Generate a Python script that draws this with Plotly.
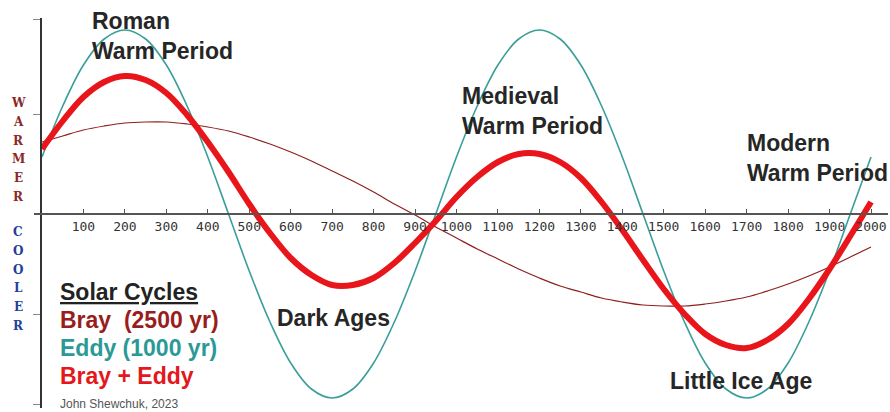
import plotly.graph_objects as go

# ---- data (arbitrary "warmer/cooler" units) ----
years = list(range(0, 2001, 50))
eddy = [0.57, 1.08, 1.49, 1.75, 1.84, 1.75, 1.49, 1.08, 0.57, 0.00,
        -0.57, -1.08, -1.49, -1.75, -1.84, -1.75, -1.49, -1.08, -0.57, 0.00,
        0.57, 1.08, 1.49, 1.75, 1.84, 1.75, 1.49, 1.08, 0.57, 0.00,
        -0.57, -1.08, -1.49, -1.75, -1.84, -1.75, -1.49, -1.08, -0.57, 0.00,
        0.57]
bray = [0.72, 0.78, 0.84, 0.88, 0.91, 0.92, 0.92, 0.90, 0.87, 0.83,
        0.77, 0.70, 0.62, 0.53, 0.43, 0.33, 0.22, 0.10, -0.01, -0.13,
        -0.24, -0.35, -0.45, -0.55, -0.64, -0.72, -0.78, -0.84, -0.88, -0.91,
        -0.92, -0.92, -0.90, -0.87, -0.83, -0.77, -0.70, -0.62, -0.53, -0.43,
        -0.33]
combined = [0.65, 0.93, 1.17, 1.32, 1.38, 1.34, 1.21, 0.99, 0.72, 0.42,
            0.10, -0.19, -0.44, -0.61, -0.71, -0.71, -0.64, -0.49, -0.29, -0.07,
            0.17, 0.37, 0.52, 0.60, 0.60, 0.52, 0.36, 0.12, -0.16, -0.46,
            -0.75, -1.00, -1.20, -1.31, -1.34, -1.26, -1.10, -0.85, -0.55, -0.22,
            0.12]

tick_years = list(range(100, 2001, 100))
tick_labels = [str(v) for v in tick_years]

period_labels = ["Roman<br>Warm Period", "Medieval<br>Warm Period",
                 "Modern<br>Warm Period", "Dark Ages", "Little Ice Age"]
legend_title = "Solar Cycles"
legend_items = ["Bray\u00a0\u00a0(2500 yr)", "Eddy (1000 yr)", "Bray + Eddy"]
credit = "John Shewchuk, 2023"
warm_word = "WARMER"
cool_word = "COOLER"

# ---- styles ----
C_BRAY = "#8e1f1f"
C_EDDY = "#3a9e9a"
C_SUM = "#e8161b"
C_BRAY_TXT = "#9a1d1d"
C_EDDY_TXT = "#2b9a96"
C_SUM_TXT = "#e3181d"
SANS = "Liberation Sans, Arial, sans-serif"

Y0, Y1 = -1.94, 1.96
X1 = 2041

fig = go.Figure()
fig.add_trace(go.Scatter(x=years, y=bray, mode="lines",
                         line=dict(color=C_BRAY, width=1.2, shape="spline"),
                         hoverinfo="skip"))
fig.add_trace(go.Scatter(x=years, y=eddy, mode="lines",
                         line=dict(color=C_EDDY, width=1.6, shape="spline"),
                         hoverinfo="skip"))
fig.add_trace(go.Scatter(x=years, y=combined, mode="lines",
                         line=dict(color=C_SUM, width=6, shape="spline"),
                         hoverinfo="skip"))

ann = []
# period labels: (x data, y data)
pos = [(116, 1.78), (1008, 1.03), (1696, 0.56), (562, -1.04), (1510, -1.67)]
for txt, (px, py) in zip(period_labels, pos):
    ann.append(dict(x=px, y=py, xref="x", yref="y", text="<b>" + txt.replace("<br>", "</b><br><b>") + "</b>",
                    showarrow=False, xanchor="left", yanchor="middle", align="left",
                    font=dict(family=SANS, size=23, color="#262626")))

# legend block
lx = 38
ann.append(dict(x=lx, y=-0.78, xref="x", yref="y", text="<b><u>" + legend_title + "</u></b>",
                showarrow=False, xanchor="left", yanchor="middle",
                font=dict(family=SANS, size=23, color="#222222")))
for txt, yy, col in zip(legend_items, [-1.06, -1.34, -1.62],
                        [C_BRAY_TXT, C_EDDY_TXT, C_SUM_TXT]):
    ann.append(dict(x=lx, y=yy, xref="x", yref="y", text="<b>" + txt + "</b>",
                    showarrow=False, xanchor="left", yanchor="middle",
                    font=dict(family=SANS, size=23, color=col)))
ann.append(dict(x=lx, y=-1.90, xref="x", yref="y", text=credit,
                showarrow=False, xanchor="left", yanchor="middle",
                font=dict(family=SANS, size=12, color="#555555")))

# vertical WARMER / COOLER words
for word, top, col in [(warm_word, 1.11, "#8b2727"), (cool_word, -0.18, "#22409a")]:
    for i, ch in enumerate(word):
        ann.append(dict(x=-24 / 846, y=top - i * 0.188, xref="paper", yref="y",
                        text="<b>" + ch + "</b>", showarrow=False,
                        xanchor="center", yanchor="middle",
                        font=dict(family="DejaVu Serif, serif", size=12, color=col)))

fig.update_layout(
    width=890, height=412,
    margin=dict(l=42, r=2, t=18, b=4),
    paper_bgcolor="white", plot_bgcolor="white",
    showlegend=False,
    annotations=ann,
    shapes=[dict(type="line", xref="paper", yref="y", x0=-8 / 846, x1=0, y0=0, y1=0,
                 line=dict(color="#555555", width=2))],
    xaxis=dict(range=[0, X1], anchor="free", position=(0 - Y0) / (Y1 - Y0),
               showline=True, linecolor="#555555", linewidth=2,
               ticks="inside", ticklen=4, tickcolor="#555555", tickwidth=1,
               tickvals=tick_years, ticktext=tick_labels,
               tickfont=dict(family="DejaVu Sans Mono, monospace", size=13, color="#333333"),
               showgrid=False, zeroline=False, fixedrange=True),
    yaxis=dict(range=[Y0, Y1], showline=True, linecolor="#333333", linewidth=2,
               ticks="outside", ticklen=7, tickcolor="#888888",
               tickvals=[-1.9, -1, 1, 1.95], showticklabels=False,
               showgrid=False, zeroline=False, fixedrange=True),
)

fig.write_html("out.html", config={"displayModeBar": False},
               post_script="document.body.style.margin='0';document.body.style.overflow='hidden';")
